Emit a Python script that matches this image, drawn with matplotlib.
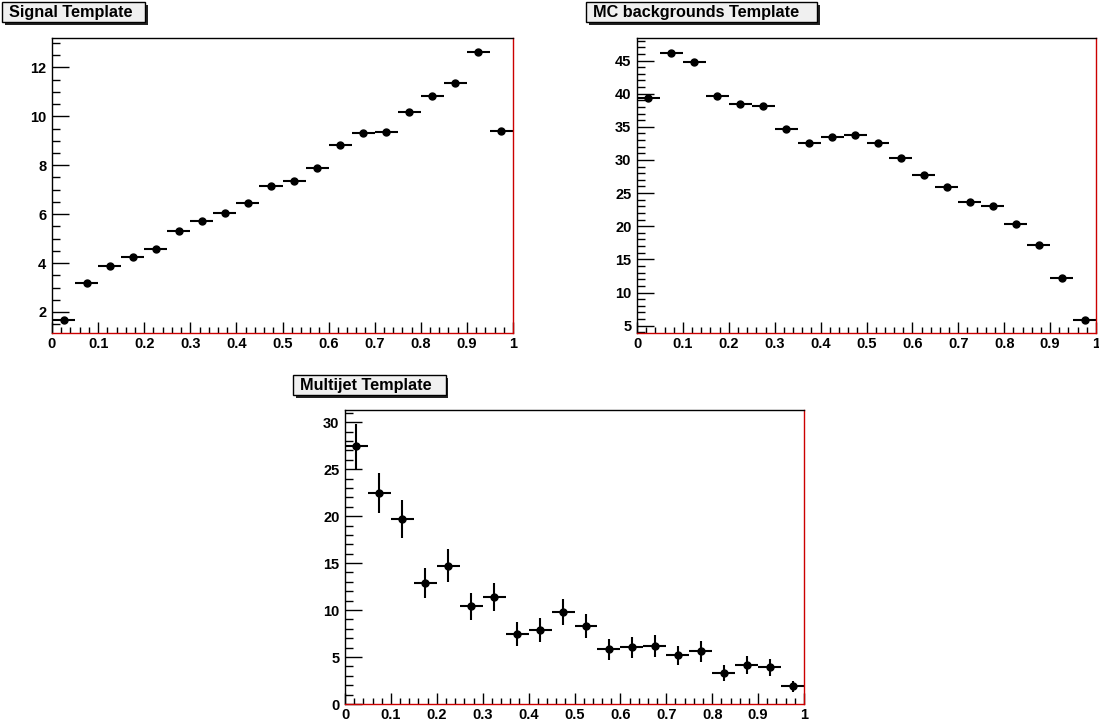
import numpy as np
import matplotlib
matplotlib.use("Agg")
import matplotlib.pyplot as plt
from matplotlib.patches import Rectangle
from matplotlib.ticker import MultipleLocator, FixedLocator, FuncFormatter

plt.rcParams['font.family'] = ['Liberation Sans', 'DejaVu Sans']
plt.rcParams['font.weight'] = 'bold'

# 20 bins on [0, 1]
n_bins = 20
bin_edges = np.linspace(0.0, 1.0, n_bins + 1)

signal_values = [1.66, 3.19, 3.88, 4.24, 4.56, 5.33, 5.71, 6.05, 6.46, 7.14,
                 7.36, 7.89, 8.82, 9.31, 9.37, 10.17, 10.81, 11.35, 12.64, 9.41]

mc_values = [39.3, 46.2, 44.8, 39.7, 38.4, 38.1, 34.6, 32.6, 33.5, 33.7,
             32.6, 30.3, 27.7, 25.9, 23.7, 23.1, 20.4, 17.1, 12.2, 5.9]

multijet_values = [27.42, 22.44, 19.72, 12.90, 14.73, 10.39, 11.38, 7.46, 7.84, 9.79,
                   8.30, 5.83, 6.04, 6.22, 5.19, 5.62, 3.29, 4.13, 3.92, 1.87]
multijet_errors = [2.40, 2.14, 2.05, 1.60, 1.74, 1.43, 1.52, 1.24, 1.29, 1.42,
                   1.27, 1.10, 1.13, 1.17, 1.03, 1.10, 0.87, 0.95, 0.92, 0.60]

W, H = 1099, 721
fig = plt.figure(figsize=(W / 100, H / 100), dpi=100)
fig.patch.set_facecolor('white')

FRAME_RED = '#cc0000'
TICK_FS = 10.5
TITLE_FS = 11.7


def px_axes(x0, y0, x1, y1):
    """Create axes from pixel box (top-left origin)."""
    return fig.add_axes([x0 / W, 1 - y1 / H, (x1 - x0) / W, (y1 - y0) / H])


def title_box(x0, y0, x1, y1, text):
    shadow = Rectangle((x0 / W + 2.5 / W, 1 - (y1 + 2.5) / H), (x1 - x0) / W, (y1 - y0) / H,
                       transform=fig.transFigure, facecolor='#222222', edgecolor='none', zorder=1)
    box = Rectangle((x0 / W, 1 - y1 / H), (x1 - x0) / W, (y1 - y0) / H,
                    transform=fig.transFigure, facecolor='#f0f0f0', edgecolor='black',
                    linewidth=1.0, zorder=2)
    fig.patches.extend([shadow, box])
    fig.text((x0 + 7) / W, 1 - ((y0 + y1) / 2 + 0.5) / H, text, ha='left', va='center',
             fontsize=TITLE_FS, fontweight='bold', zorder=3)


def style_axes(ax, ylim, yminor, yticks):
    ax.set_xlim(0, 1)
    ax.set_ylim(*ylim)
    ax.xaxis.set_major_locator(MultipleLocator(0.1))
    ax.xaxis.set_minor_locator(MultipleLocator(0.02))
    ax.xaxis.set_major_formatter(FuncFormatter(lambda v, p: f"{v:g}"))
    ax.yaxis.set_major_locator(FixedLocator(yticks))
    ax.yaxis.set_minor_locator(MultipleLocator(yminor))
    ax.yaxis.set_major_formatter(FuncFormatter(lambda v, p: f"{v:g}"))
    ax.tick_params(axis='x', which='major', direction='in', length=8, width=1,
                   labelsize=TICK_FS, pad=3, top=False)
    ax.tick_params(axis='x', which='minor', direction='in', length=4, width=1, top=False)
    ax.tick_params(axis='y', which='major', direction='in', length=12, width=1,
                   labelsize=TICK_FS, pad=4, right=False)
    ax.tick_params(axis='y', which='minor', direction='in', length=6, width=1, right=False)
    for lab in ax.get_xticklabels() + ax.get_yticklabels():
        lab.set_fontweight('bold')
    ax.spines['left'].set_color('black')
    ax.spines['top'].set_color('black')
    ax.spines['bottom'].set_color(FRAME_RED)
    ax.spines['right'].set_color(FRAME_RED)
    for s in ax.spines.values():
        s.set_linewidth(1.0)


def draw_hist(ax, values, errors=None):
    centers = 0.5 * (bin_edges[:-1] + bin_edges[1:])
    half = 0.5 * np.diff(bin_edges)
    ax.errorbar(centers, values, xerr=half, yerr=errors, fmt='o', color='black',
                markersize=5, elinewidth=1.5, capsize=0, clip_on=False)


ax1 = px_axes(52, 38, 513, 333)
draw_hist(ax1, signal_values)
style_axes(ax1, (1.14, 13.2), 0.5, [2, 4, 6, 8, 10, 12])
title_box(2, 2, 145, 22, 'Signal Template')

ax2 = px_axes(637, 38, 1096, 333)
draw_hist(ax2, mc_values)
style_axes(ax2, (3.89, 48.4), 1, [5, 10, 15, 20, 25, 30, 35, 40, 45])
title_box(586, 2, 817, 22, 'MC backgrounds Template')

ax3 = px_axes(345, 410, 804, 704)
draw_hist(ax3, multijet_values, multijet_errors)
style_axes(ax3, (0, 31.3), 1, [0, 5, 10, 15, 20, 25, 30])
title_box(293, 375, 446, 395, 'Multijet Template')

fig.savefig('out.png', dpi=100, facecolor='white')
